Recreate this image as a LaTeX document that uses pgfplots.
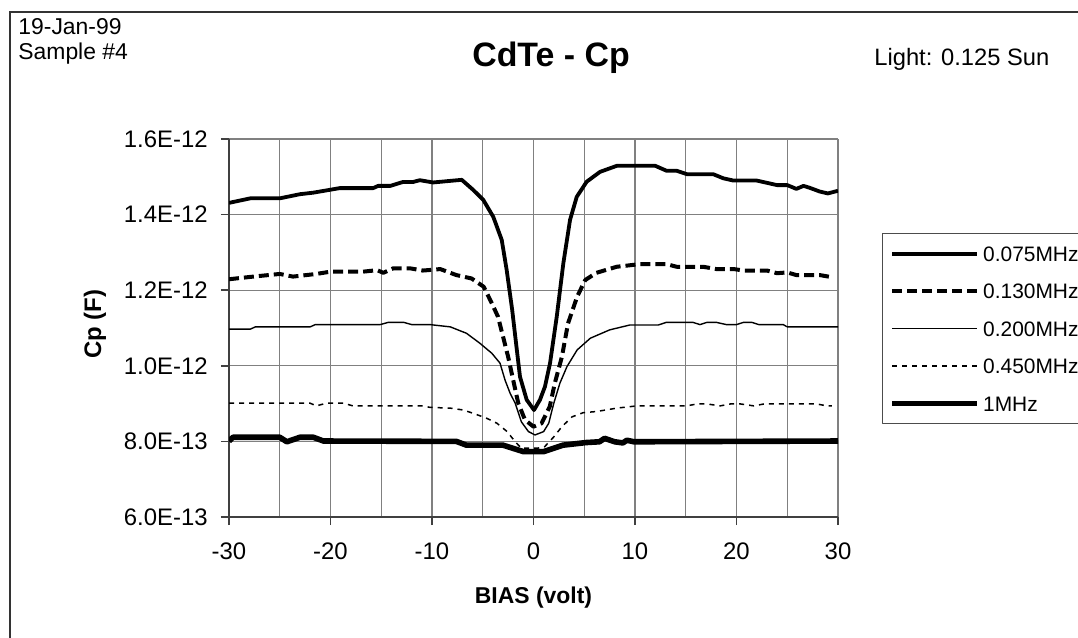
\documentclass[border=0pt]{standalone}
\usepackage{fontspec}
\setmainfont{Liberation Sans}
\usepackage{pgfplots}
\pgfplotsset{compat=1.18}

\begin{document}
\begin{tikzpicture}
\path[use as bounding box] (0,0) rectangle (539bp,319bp);
% outer chart frame (only left and top edges are visible)
\draw[line width=1bp, black!80] (4.75bp,-10bp) -- (4.75bp,313bp) -- (560bp,313bp);

\begin{axis}[
  at={(114.5bp,60.5bp)}, anchor=south west,
  width=304.5bp, height=189bp, scale only axis,
  xmin=-30, xmax=30, ymin=0.6, ymax=1.6,
  xtick={-30,-20,-10,0,10,20,30},
  xticklabels={-30,-20,-10,0,10,20,30},
  minor xtick={-25,-15,-5,5,15,25},
  ytick={0.6,0.8,1.0,1.2,1.4,1.6},
  yticklabels={6.0E-13,8.0E-13,1.0E-12,1.2E-12,1.4E-12,1.6E-12},
  axis x line*=bottom, axis y line*=left,
  axis line style={black!75, line width=0.75bp, -},
  tick align=outside, major tick length=4bp, minor tick length=0pt,
  tick style={black!75, line width=0.75bp},
  grid=both,
  major grid style={black!50, line width=0.6bp},
  minor grid style={black!50, line width=0.6bp},
  ticklabel style={font=\fontsize{12}{14}\selectfont, inner sep=0pt},
  xticklabel shift=8.5bp, yticklabel shift=6.5bp,
  every axis x label/.style={at={(axis description cs:0.5,0)}, anchor=base, yshift=-43bp, font=\fontsize{11.5}{13}\selectfont\bfseries},
  every axis y label/.style={at={(axis description cs:0,0.5)}, xshift=-67bp, yshift=2bp, anchor=center, rotate=90, font=\fontsize{12}{13}\selectfont\bfseries},
  xlabel={BIAS (volt)}, ylabel={Cp (F)},
  legend cell align=left,
  legend image code/.code={\draw[#1] (0bp,0bp) -- (42.5bp,0bp);},
  legend style={at={(1.0722,0.7513)}, anchor=north west, draw=black!70, line width=0.6bp,
    inner xsep=3.5bp, inner ysep=6.25bp, row sep=11.25bp, column sep=1.5bp,
    font=\fontsize{10.5}{12}\selectfont,
    nodes={inner sep=0pt, text height=7.5bp, text depth=0bp, text width=58bp}},
  line join=round,
]
\addplot[black, line width=1.9bp] coordinates {
(-30,1.431) (-27.9,1.443) (-25,1.443) (-23,1.454) (-21.7,1.458) (-19.1,1.470)
(-15.8,1.470) (-15.3,1.476) (-14.1,1.476) (-12.9,1.486) (-11.9,1.486) (-11.2,1.491)
(-9.9,1.485) (-7.07,1.492) (-5.93,1.465) (-4.95,1.439) (-3.96,1.394) (-3.13,1.333)
(-2.64,1.253) (-2.10,1.148) (-1.72,1.060) (-1.33,0.971) (-0.67,0.910) (0.05,0.883)
(0.64,0.910) (1.13,0.945) (1.63,1.007) (2.29,1.130) (2.94,1.271) (3.60,1.386)
(4.26,1.447) (5.24,1.487) (6.55,1.513) (8.20,1.529) (12.0,1.529) (13.1,1.516)
(14.1,1.516) (15.1,1.507) (17.7,1.507) (18.7,1.496) (19.7,1.490) (22.0,1.490)
(24.0,1.478) (25.0,1.478) (25.9,1.468) (26.6,1.476) (27.2,1.471) (28.2,1.461)
(29.0,1.456) (30,1.463)
};
\addlegendentry{0.075MHz}
\addplot[black, line width=2bp, dash pattern=on 5bp off 2.5bp] coordinates {
(-30,1.229) (-27.6,1.236) (-25,1.243) (-23.7,1.236) (-21.4,1.243) (-20,1.249)
(-16.8,1.249) (-15.4,1.253) (-14.8,1.246) (-13.8,1.258) (-12.2,1.258) (-10.9,1.252)
(-9.5,1.255) (-9.2,1.256) (-7.6,1.240) (-6.1,1.231) (-4.9,1.209) (-4.1,1.165)
(-3.5,1.130) (-3.0,1.077) (-2.5,1.024) (-2.0,0.962) (-1.5,0.901) (-0.84,0.857)
(0,0.839) (0.8,0.848) (1.6,0.892) (2.1,0.954) (2.8,1.024) (3.4,1.112) (4.3,1.183)
(5.1,1.227) (6.2,1.246) (8.2,1.262) (10.5,1.269) (13.1,1.269) (14.1,1.262)
(16.7,1.262) (18.0,1.256) (19.7,1.256) (20.7,1.252) (23.0,1.252) (24.0,1.245)
(25.0,1.247) (25.9,1.240) (28.2,1.240) (29.5,1.234)
};
\addlegendentry{0.130MHz}
\addplot[black, line width=0.7bp] coordinates {
(-30,1.097) (-27.9,1.097) (-27.4,1.103) (-22.0,1.103) (-21.5,1.109) (-15.1,1.109)
(-14.3,1.115) (-12.8,1.115) (-12.0,1.109) (-10.2,1.109) (-8.2,1.103) (-6.6,1.086)
(-5.3,1.060) (-4.1,1.033) (-3.3,1.007) (-2.8,0.962) (-2.3,0.927) (-1.8,0.901)
(-1.2,0.852) (-0.5,0.826) (0.15,0.817) (1.0,0.826) (1.5,0.848) (2.0,0.901)
(2.6,0.954) (3.3,0.998) (4.3,1.042) (5.6,1.073) (7.5,1.095) (9.5,1.108)
(12.3,1.108) (13.1,1.115) (15.7,1.115) (16.4,1.109) (17.1,1.115) (18.0,1.115)
(19.0,1.109) (20.0,1.109) (20.7,1.115) (21.5,1.115) (22.2,1.109) (24.6,1.109)
(25.0,1.103) (30,1.103)
};
\addlegendentry{0.200MHz}
\addplot[black, line width=0.75bp, dash pattern=on 2.5bp off 2.5bp] coordinates {
(-30,0.901) (-22.0,0.901) (-21.4,0.894) (-20.4,0.901) (-18.7,0.901) (-17.8,0.894)
(-10.9,0.894) (-10.2,0.890) (-8.2,0.888) (-6.9,0.883) (-5.9,0.874) (-4.6,0.861)
(-3.6,0.848) (-2.6,0.826) (-1.8,0.799) (-1.2,0.782) (-0.3,0.782) (0.4,0.782)
(1.1,0.786) (2.0,0.812) (2.8,0.839) (3.8,0.865) (4.9,0.876) (6.2,0.879)
(8.2,0.888) (10.2,0.894) (15.1,0.894) (16.1,0.899) (17.1,0.899) (18.4,0.894)
(19.4,0.899) (20.4,0.899) (21.7,0.894) (22.7,0.899) (27.9,0.899) (28.9,0.894)
(29.4,0.894)
};
\addlegendentry{0.450MHz}
\addplot[black, line width=2.8bp] coordinates {
(-30,0.801) (-29.6,0.811) (-25,0.811) (-24.3,0.799) (-23.0,0.811) (-21.7,0.811)
(-20.7,0.801) (-7.6,0.800) (-6.6,0.790) (-3.0,0.790) (-1.0,0.773) (1.0,0.773)
(2.9,0.790) (5.2,0.797) (6.5,0.799) (7.0,0.808) (8.0,0.799) (8.8,0.796)
(9.2,0.803) (9.9,0.799) (30,0.801)
};
\addlegendentry{1MHz}
\end{axis}

\node[anchor=base west, inner sep=0pt, font=\fontsize{11.5}{14}\selectfont] at (9bp,301.5bp) {19-Jan-99};
\node[anchor=base west, inner sep=0pt, font=\fontsize{11.5}{14}\selectfont] at (9bp,289bp) {Sample \#4};
\node[anchor=base, inner sep=0pt, font=\fontsize{17}{19}\selectfont\bfseries] at (275.5bp,285.7bp) {CdTe - Cp};
\node[anchor=base west, inner sep=0pt, font=\fontsize{11.9}{14}\selectfont] at (437bp,286bp) {Light: 0.125 Sun};
\end{tikzpicture}
\end{document}
